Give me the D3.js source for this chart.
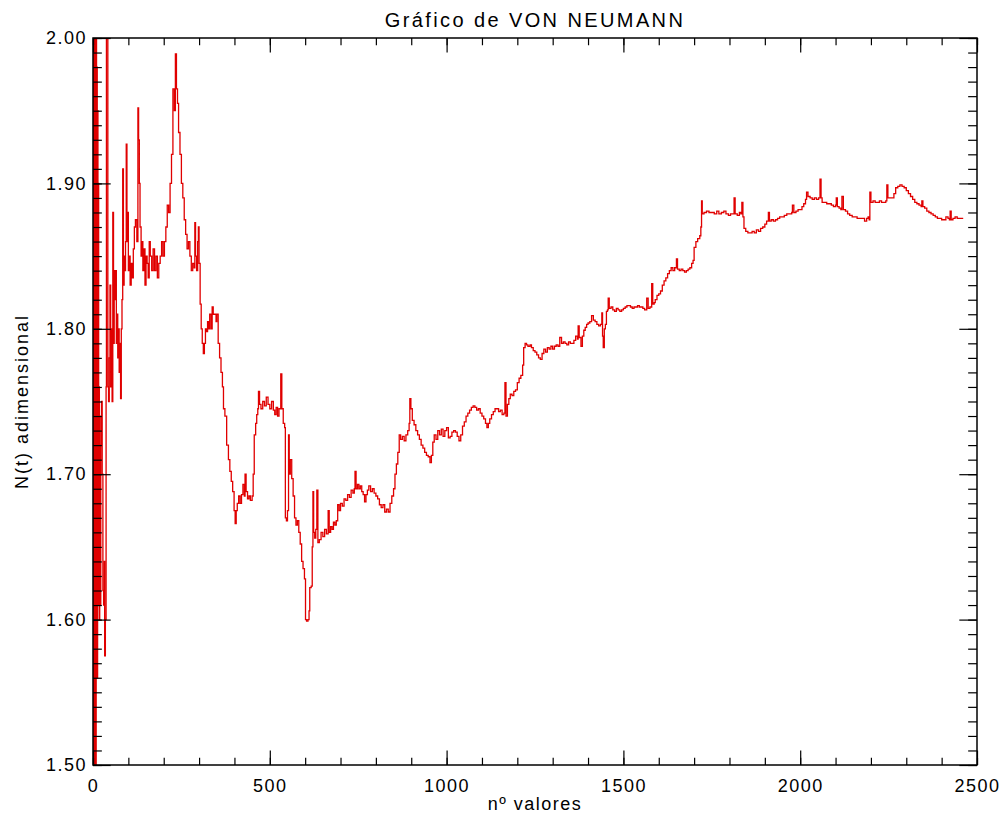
<!DOCTYPE html>
<html>
<head>
<meta charset="utf-8">
<script src="https://cdn.jsdelivr.net/npm/d3@7"></script>
<style>
  body { margin: 0; background: #fff; }
  text { font-family: "Liberation Sans", Arial, sans-serif; fill: #000; }
</style>
</head>
<body>
<script>
const width = 1004;
const height = 816;
const margin = {top: 38, right: 27, bottom: 51, left: 93};

const chartTitle = "Gráfico de VON NEUMANN";
const xLabel = "nº valores";
const yLabel = "N(t) adimensional";

const xMajorTicks = [0, 500, 1000, 1500, 2000, 2500];
const yMajorTicks = [1.50, 1.60, 1.70, 1.80, 1.90, 2.00];

// [nº valor, N(t)]
const series = [
  [0,1.30],[1,2.40],[2,1.20],[3,2.30],[4,1.45],[5,2.20],[6,1.35],[7,2.10],[8,1.50],[9,2.05],
  [10,1.61],[11,1.98],[12,1.56],[13,1.95],[14,1.61],[15,1.90],[16,1.62],[17,1.76],[18,1.60],[19,1.74],
  [20,1.61],[22,1.72],[24,1.75],[26,1.70],[28,1.62],[30,1.61],[32,1.64],[33,1.575],[35,1.60],[37,1.76],
  [38,2.10],[40,2.20],[42,1.76],[44,1.75],[46,1.78],[48,1.83],[50,1.76],[52,1.80],[54,1.75],[56,1.88],
  [58,1.79],[60,1.84],[62,1.82],[64,1.84],[66,1.79],[68,1.81],[70,1.78],[72,1.80],[74,1.77],[76,1.79],
  [78,1.752],[80,1.80],[82,1.82],[84,1.91],[86,1.83],[88,1.85],[90,1.84],[92,1.86],[94,1.927],[96,1.86],
  [98,1.88],[100,1.84],[102,1.85],[105,1.83],[108,1.845],[111,1.835],[114,1.855],[117,1.87],[120,1.875],[124,1.86],
  [127,1.952],[129,1.93],[131,1.90],[133,1.87],[136,1.85],[138,1.86],[141,1.84],[144,1.855],[147,1.83],[150,1.85],
  [153,1.845],[156,1.835],[159,1.86],[162,1.85],[166,1.84],[170,1.855],[174,1.84],[178,1.85],[182,1.835],[186,1.845],
  [190,1.85],[194,1.86],[198,1.85],[202,1.86],[206,1.87],[210,1.885],[214,1.88],[218,1.90],[222,1.92],[226,1.965],
  [230,1.95],[233,1.989],[236,1.965],[239,1.955],[242,1.935],[246,1.92],[250,1.90],[254,1.89],[258,1.875],[262,1.865],
  [266,1.855],[270,1.86],[274,1.85],[278,1.84],[282,1.845],[286,1.842],[288,1.873],[290,1.85],[293,1.84],[296,1.86],
  [298,1.87],[300,1.845],[303,1.817],[306,1.80],[309,1.79],[312,1.783],[315,1.79],[318,1.80],[321,1.798],[324,1.805],
  [327,1.80],[330,1.81],[334,1.80],[337,1.815],[340,1.81],[344,1.81],[348,1.805],[350,1.81],[354,1.79],[358,1.78],
  [362,1.77],[366,1.76],[369,1.745],[373,1.74],[378,1.72],[383,1.71],[387,1.702],[391,1.695],[395,1.688],[399,1.675],
  [402,1.666],[405,1.675],[408,1.68],[412,1.685],[416,1.68],[420,1.686],[424,1.693],[428,1.685],[430,1.70],[433,1.688],
  [437,1.683],[441,1.685],[445,1.682],[450,1.685],[453,1.70],[456,1.727],[460,1.735],[463,1.741],[466,1.745],[468,1.757],
  [471,1.748],[475,1.745],[480,1.75],[485,1.747],[490,1.753],[495,1.748],[500,1.745],[505,1.75],[510,1.744],[514,1.741],
  [518,1.746],[522,1.74],[526,1.745],[531,1.769],[534,1.745],[538,1.735],[542,1.732],[544,1.67],[547,1.668],[550,1.675],
  [553,1.727],[555,1.70],[558,1.71],[562,1.697],[566,1.685],[570,1.67],[574,1.665],[578,1.668],[582,1.66],[586,1.652],
  [590,1.64],[594,1.635],[598,1.628],[601,1.60],[604,1.599],[608,1.60],[611,1.606],[613,1.622],[617,1.623],[620,1.65],
  [622,1.688],[624,1.66],[627,1.656],[630,1.662],[633,1.689],[636,1.653],[640,1.655],[645,1.66],[650,1.657],[655,1.662],
  [660,1.659],[665,1.675],[668,1.66],[672,1.664],[676,1.662],[680,1.667],[684,1.665],[688,1.668],[692,1.679],[696,1.675],
  [700,1.68],[705,1.678],[710,1.683],[715,1.682],[720,1.686],[725,1.684],[730,1.689],[735,1.687],[739,1.69],[741,1.702],
  [744,1.69],[748,1.693],[752,1.69],[756,1.692],[760,1.688],[764,1.686],[768,1.681],[772,1.686],[776,1.689],[780,1.692],
  [785,1.688],[790,1.69],[795,1.687],[800,1.685],[805,1.683],[810,1.679],[815,1.677],[820,1.679],[825,1.674],[830,1.676],
  [835,1.674],[840,1.68],[845,1.685],[850,1.69],[854,1.70],[858,1.707],[862,1.715],[866,1.727],[870,1.724],[875,1.726],
  [880,1.723],[885,1.727],[890,1.73],[894,1.735],[896,1.752],[899,1.745],[903,1.737],[908,1.734],[913,1.73],[918,1.727],
  [923,1.724],[928,1.72],[933,1.718],[938,1.715],[943,1.713],[948,1.712],[953,1.708],[957,1.713],[961,1.722],[965,1.727],
  [970,1.724],[975,1.73],[980,1.727],[985,1.731],[990,1.726],[995,1.73],[1000,1.732],[1005,1.725],[1010,1.726],[1015,1.729],
  [1020,1.73],[1025,1.729],[1030,1.726],[1035,1.723],[1040,1.727],[1045,1.733],[1050,1.736],[1055,1.74],[1060,1.742],[1065,1.744],
  [1070,1.746],[1075,1.747],[1080,1.746],[1085,1.744],[1090,1.745],[1095,1.742],[1100,1.74],[1105,1.738],[1110,1.735],[1114,1.732],
  [1118,1.735],[1122,1.738],[1127,1.741],[1132,1.743],[1137,1.745],[1142,1.745],[1147,1.743],[1152,1.744],[1157,1.741],[1162,1.742],
  [1165,1.763],[1168,1.74],[1172,1.748],[1176,1.752],[1180,1.755],[1185,1.754],[1190,1.757],[1195,1.758],[1200,1.763],[1205,1.766],
  [1210,1.768],[1215,1.775],[1218,1.787],[1222,1.79],[1226,1.789],[1230,1.788],[1236,1.789],[1240,1.787],[1245,1.785],[1250,1.784],
  [1255,1.782],[1260,1.78],[1265,1.779],[1270,1.783],[1275,1.786],[1280,1.784],[1285,1.787],[1290,1.786],[1295,1.788],[1300,1.786],
  [1305,1.788],[1310,1.789],[1315,1.788],[1320,1.794],[1325,1.79],[1330,1.791],[1335,1.79],[1340,1.789],[1345,1.791],[1350,1.79],
  [1355,1.79],[1360,1.792],[1365,1.795],[1370,1.793],[1372,1.802],[1375,1.794],[1380,1.788],[1384,1.795],[1388,1.799],[1392,1.801],
  [1396,1.803],[1400,1.804],[1405,1.805],[1410,1.809],[1415,1.806],[1420,1.805],[1425,1.803],[1430,1.802],[1435,1.803],[1439,1.811],
  [1441,1.795],[1443,1.787],[1446,1.80],[1449,1.803],[1452,1.812],[1455,1.813],[1457,1.821],[1460,1.814],[1465,1.815],[1470,1.813],
  [1475,1.812],[1480,1.814],[1485,1.813],[1490,1.812],[1495,1.813],[1500,1.814],[1505,1.815],[1510,1.816],[1515,1.816],[1520,1.815],
  [1525,1.814],[1530,1.815],[1535,1.815],[1540,1.816],[1545,1.815],[1550,1.815],[1555,1.814],[1560,1.813],[1566,1.821],[1570,1.814],
  [1575,1.815],[1580,1.831],[1583,1.817],[1587,1.818],[1590,1.82],[1595,1.823],[1600,1.824],[1605,1.826],[1610,1.83],[1615,1.833],
  [1620,1.835],[1625,1.838],[1630,1.84],[1635,1.842],[1640,1.84],[1645,1.842],[1650,1.848],[1653,1.841],[1658,1.84],[1663,1.841],
  [1668,1.84],[1673,1.839],[1678,1.84],[1683,1.841],[1688,1.842],[1693,1.845],[1697,1.847],[1700,1.856],[1705,1.86],[1710,1.862],
  [1716,1.864],[1719,1.87],[1721,1.888],[1723,1.879],[1728,1.88],[1735,1.881],[1742,1.88],[1750,1.88],[1757,1.879],[1764,1.881],
  [1770,1.879],[1777,1.88],[1784,1.881],[1790,1.879],[1797,1.878],[1803,1.879],[1808,1.879],[1813,1.89],[1816,1.879],[1822,1.878],
  [1828,1.88],[1832,1.879],[1835,1.887],[1838,1.877],[1841,1.869],[1846,1.867],[1852,1.866],[1858,1.866],[1864,1.867],[1870,1.866],
  [1876,1.868],[1882,1.867],[1888,1.869],[1894,1.87],[1900,1.872],[1905,1.874],[1910,1.88],[1913,1.874],[1918,1.875],[1924,1.874],
  [1930,1.875],[1936,1.876],[1942,1.877],[1948,1.877],[1955,1.878],[1962,1.879],[1970,1.879],[1976,1.88],[1978,1.885],[1982,1.88],
  [1988,1.881],[1994,1.882],[2000,1.882],[2005,1.884],[2010,1.886],[2015,1.889],[2018,1.894],[2022,1.891],[2028,1.89],[2034,1.889],
  [2040,1.89],[2046,1.889],[2052,1.89],[2056,1.903],[2059,1.89],[2062,1.887],[2068,1.887],[2075,1.886],[2082,1.886],[2088,1.885],
  [2094,1.884],[2100,1.885],[2102,1.89],[2105,1.884],[2110,1.883],[2115,1.882],[2118,1.891],[2122,1.882],[2128,1.881],[2134,1.879],
  [2140,1.878],[2147,1.877],[2154,1.877],[2161,1.876],[2168,1.876],[2175,1.876],[2182,1.874],[2188,1.876],[2192,1.877],[2195,1.875],
  [2197,1.894],[2200,1.887],[2206,1.888],[2212,1.887],[2218,1.887],[2224,1.888],[2230,1.887],[2236,1.887],[2242,1.888],[2245,1.899],
  [2248,1.89],[2254,1.89],[2260,1.89],[2265,1.893],[2270,1.897],[2276,1.898],[2282,1.899],[2288,1.898],[2294,1.897],[2300,1.895],
  [2306,1.893],[2312,1.891],[2318,1.889],[2324,1.887],[2330,1.886],[2336,1.885],[2342,1.884],[2344,1.888],[2347,1.884],[2352,1.883],
  [2358,1.881],[2364,1.88],[2370,1.879],[2376,1.878],[2382,1.877],[2388,1.876],[2394,1.876],[2400,1.875],[2406,1.875],[2412,1.877],
  [2418,1.876],[2422,1.875],[2424,1.881],[2427,1.875],[2432,1.876],[2438,1.877],[2444,1.876],[2450,1.876],[2456,1.876],[2461,1.876]
];

const innerW = width - margin.left - margin.right;
const innerH = height - margin.top - margin.bottom;

const svg = d3.select("body")
    .append("svg")
    .attr("width", width)
    .attr("height", height);

const g = svg.append("g")
    .attr("transform", `translate(${margin.left},${margin.top})`);

const x = d3.scaleLinear().domain([0, 2500]).range([0, innerW]);
const y = d3.scaleLinear().domain([1.5, 2.0]).range([innerH, 0]);

svg.append("defs").append("clipPath")
    .attr("id", "plot-clip")
    .append("rect")
    .attr("width", innerW)
    .attr("height", innerH);

// line first, the frame goes on top of it
// step curve gives the jagged staircase look of the original dense trace
g.append("path")
    .datum(series)
    .attr("clip-path", "url(#plot-clip)")
    .attr("fill", "none")
    .attr("stroke", "#e00000")
    .attr("stroke-width", 1.3)
    .attr("d", d3.line().curve(d3.curveStepAfter).x(d => x(d[0])).y(d => y(d[1])));

const xMinor = d3.range(0, 2501, 100);
const yMinor = d3.range(150, 201, 1).map(v => v / 100);

const xTickLen = 14.5, yTickLen = 17.7;

function styleAxis(sel) {
    sel.select(".domain").remove();
    sel.selectAll("line").attr("stroke", "#000").attr("stroke-width", 1.2);
    sel.selectAll("text")
        .attr("font-size", 18)
        .attr("letter-spacing", 1.5)
        .style("font-family", "'Liberation Sans', Arial, sans-serif");
}

// bottom
g.append("g").attr("transform", `translate(0,${innerH})`)
    .call(d3.axisBottom(x).tickValues(xMinor).tickSize(-xTickLen / 2).tickFormat(""))
    .call(styleAxis);
g.append("g").attr("transform", `translate(0,${innerH})`)
    .call(d3.axisBottom(x).tickValues(xMajorTicks).tickSize(-xTickLen).tickPadding(14).tickFormat(d3.format("d")))
    .call(styleAxis);
// top
g.append("g")
    .call(d3.axisTop(x).tickValues(xMinor).tickSize(-xTickLen / 2).tickFormat(""))
    .call(styleAxis);
g.append("g")
    .call(d3.axisTop(x).tickValues(xMajorTicks).tickSize(-xTickLen).tickFormat(""))
    .call(styleAxis);
// left
g.append("g")
    .call(d3.axisLeft(y).tickValues(yMinor).tickSize(-yTickLen / 2).tickFormat(""))
    .call(styleAxis);
g.append("g")
    .call(d3.axisLeft(y).tickValues(yMajorTicks).tickSize(-yTickLen).tickPadding(6).tickFormat(d3.format(".2f")))
    .call(styleAxis);
// right
g.append("g").attr("transform", `translate(${innerW},0)`)
    .call(d3.axisRight(y).tickValues(yMinor).tickSize(-yTickLen / 2).tickFormat(""))
    .call(styleAxis);
g.append("g").attr("transform", `translate(${innerW},0)`)
    .call(d3.axisRight(y).tickValues(yMajorTicks).tickSize(-yTickLen).tickFormat(""))
    .call(styleAxis);

g.append("rect")
    .attr("width", innerW)
    .attr("height", innerH)
    .attr("fill", "none")
    .attr("stroke", "#000")
    .attr("stroke-width", 1.5);

svg.append("text")
    .attr("x", margin.left + innerW / 2)
    .attr("y", 27)
    .attr("text-anchor", "middle")
    .attr("font-size", 20)
    .attr("letter-spacing", 2.4)
    .text(chartTitle);

svg.append("text")
    .attr("x", margin.left + innerW / 2)
    .attr("y", 810)
    .attr("text-anchor", "middle")
    .attr("font-size", 18)
    .attr("letter-spacing", 1.5)
    .text(xLabel);

svg.append("text")
    .attr("transform", `translate(28,${margin.top + innerH / 2}) rotate(-90)`)
    .attr("text-anchor", "middle")
    .attr("font-size", 18)
    .attr("letter-spacing", 2)
    .text(yLabel);
</script>
</body>
</html>
